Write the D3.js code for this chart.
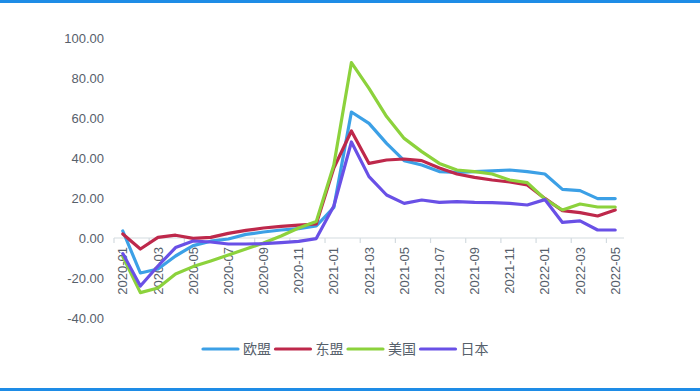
<!DOCTYPE html>
<html><head><meta charset="utf-8">
<script src="https://cdn.jsdelivr.net/npm/d3@7/dist/d3.min.js"></script>
<style>
html,body{margin:0;padding:0;background:#fff;}
svg{display:block;}
</style></head>
<body>
<script>
const months = ["2020-01","2020-02","2020-03","2020-04","2020-05","2020-06","2020-07","2020-08","2020-09","2020-10","2020-11","2020-12",
"2021-01","2021-02","2021-03","2021-04","2021-05","2021-06","2021-07","2021-08","2021-09","2021-10","2021-11","2021-12",
"2022-01","2022-02","2022-03","2022-04","2022-05"];
const seriesNames = ["欧盟","东盟","美国","日本"];
const eu    = [3.5,-17.5,-15.5,-9,-3.8,-1.6,-0.5,1.8,3,4,4.7,6,15.3,63,57.3,47.3,38.7,36.5,33.2,32.8,33.2,33.6,34,33.2,32,24.3,23.7,19.7,19.7];
const asean = [2,-5.5,0.3,1.4,-0.2,0.3,2.3,3.8,5,5.8,6.4,7,35,53.5,37.3,39,39.5,38.7,35,32,30.3,29,28,26.5,19.8,13.7,12.7,11,14];
const us    = [-9.3,-27.3,-25,-18,-14.3,-11.5,-8.5,-5.5,-2.5,1,5,8.2,36.5,87.7,74.8,60.7,49.8,43.2,37.3,34,33.2,32,29,27.7,19.5,14,17,15.5,15.5];
const japan = [-7.8,-24,-14,-4.8,-1.5,-2,-3,-3,-2.8,-2.3,-1.7,-0.3,16,48,30.7,21.5,17.3,19,17.8,18.2,17.8,17.7,17.3,16.5,19.2,7.8,8.6,4,4];
const yTicks = [-40,-20,0,20,40,60,80,100];
const colors = ["#3ca0e6","#be284b","#8cd23c","#6950e6"];
const allSeries = [eu, asean, us, japan];

const W = 700, H = 391;
const svg = d3.select("body").append("svg").attr("width", W).attr("height", H);

// borders
svg.append("rect").attr("x",0).attr("y",0).attr("width",W).attr("height",3).attr("fill","#1e8ce6");
svg.append("rect").attr("x",0).attr("y",388).attr("width",W).attr("height",3).attr("fill","#1e8ce6");

const x = d3.scaleBand().domain(months).range([114, 624]).padding(0);
const y = d3.scaleLinear().domain([-40, 100]).range([318, 38]);
const cx = d => x(d) + x.bandwidth()/2;

const txtColor = "#56606b";
const font = "'Liberation Sans', Arial, sans-serif";

// y axis labels
const yAxis = d3.axisLeft(y).tickValues(yTicks).tickSize(0).tickPadding(0).tickFormat(d => d.toFixed(2));
const gy = svg.append("g").attr("transform","translate(104,0)").call(yAxis);
gy.select(".domain").remove();
gy.selectAll("text").attr("fill", txtColor).style("font-family", font).style("font-size","13px");

// x axis
const axisColor = "#d3dbe0";
const gx = svg.append("g").attr("transform",`translate(0,${y(0)})`);
gx.append("line").attr("x1", x.range()[0]).attr("x2", x.range()[1]).attr("y1",0).attr("y2",0)
  .attr("stroke", axisColor).attr("stroke-width",1.2);
const tickMonths = months.filter((d,i)=> i%2===0);
gx.selectAll("line.tk").data(tickMonths).join("line").attr("class","tk")
  .attr("x1", d=>x(d)).attr("x2", d=>x(d)).attr("y1",0).attr("y2",5)
  .attr("stroke", axisColor).attr("stroke-width",1.2);
const xAxis = d3.axisBottom(x).tickValues(tickMonths).tickSize(0);
const gxl = svg.append("g").attr("transform",`translate(0,${y(0)})`).call(xAxis);
gxl.select(".domain").remove();
gxl.selectAll("text")
  .attr("transform","rotate(-90)")
  .attr("x",-9).attr("y",0).attr("dy","0.35em")
  .attr("text-anchor","end")
  .attr("fill", txtColor).style("font-family", font).style("font-size","13px");

// lines
const line = d3.line().x((d,i)=>cx(months[i])).y(d=>y(d));
allSeries.forEach((s,k)=>{
  svg.append("path").datum(s).attr("d", line).attr("fill","none")
    .attr("stroke", colors[k]).attr("stroke-width",3.2)
    .attr("stroke-linejoin","round").attr("stroke-linecap","round");
});

// legend
const lg = svg.append("g").attr("transform","translate(203,349)");
const items = lg.selectAll("g").data(seriesNames).join("g")
  .attr("transform",(d,i)=>`translate(${i*72.5},0)`);
items.append("line").attr("x1",0).attr("x2",35).attr("y1",0).attr("y2",0)
  .attr("stroke",(d,i)=>colors[i]).attr("stroke-width",3.2).attr("stroke-linecap","round");
items.append("text").attr("x",40).attr("y",0).attr("dy","0.36em").text(d=>d)
  .attr("fill", txtColor).style("font-family","'Noto Sans CJK SC', sans-serif").style("font-size","14px");
</script>
</body></html>
